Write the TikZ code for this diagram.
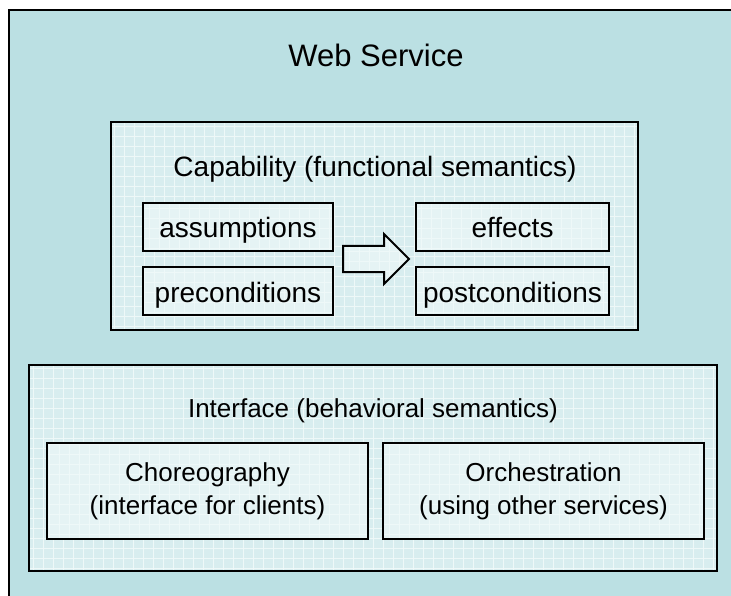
\documentclass[tikz,border=0pt]{standalone}
\usepackage{fontspec}
\setmainfont{Liberation Sans}
\usetikzlibrary{shapes.arrows}
\definecolor{outerfill}{HTML}{BBE0E3}
\definecolor{midfill}{HTML}{D8EDEF}
\definecolor{innerfill}{HTML}{E5F3F4}
\definecolor{gridcol}{HTML}{EEF8F8}
\begin{document}
\begin{tikzpicture}[x=1pt,y=-1pt,
  gridded/.style={path picture={\draw[gridcol, line width=0.8pt]
     ([shift={(-15pt,-15pt)}]path picture bounding box.south west) grid[xstep=10pt,ystep=10pt]
     ([shift={(15pt,15pt)}]path picture bounding box.north east);}},
  box/.style={draw=black, line width=2pt, inner sep=0pt, outer sep=0pt},
  outerbox/.style={box, line width=2.5pt, fill=outerfill},
  midbox/.style={box, fill=midfill, gridded},
  smallbox/.style={box, fill=innerfill, gridded, font=\fontsize{28}{30}\selectfont,
     text height=22pt, text depth=0pt},
  subbox/.style={box, fill=innerfill, gridded, align=center, font=\fontsize{26}{33}\selectfont},
  bigtitle/.style={anchor=base, inner sep=0pt, font=\fontsize{31}{34}\selectfont},
  midtitle/.style={anchor=base, inner sep=0pt, font=\fontsize{28}{30}\selectfont},
  inttitle/.style={anchor=base, inner sep=0pt, font=\fontsize{26}{30}\selectfont},
  blockarrow/.style={single arrow, draw=black, line width=2pt, fill=innerfill, gridded,
     text height=24pt, text depth=0pt, text width=0pt,
     minimum height=66pt, single arrow head extend=12pt, inner sep=0pt}
]
\useasboundingbox (0,0) rectangle (731,596);
\fill[white] (0,0) rectangle (731,596);
\clip (0,0) rectangle (731,596);

% outer web service box (extends past right and bottom edges)
\node[outerbox, minimum width=740pt, minimum height=600pt] (ws) at (379,310) {};
\node[bigtitle] (wsT) at (376,67) {Web Service};

% capability
\node[midbox, minimum width=527pt, minimum height=208pt] (cap) at (374.5,226) {};
\node[midtitle] (capT) at (375,177) {Capability (functional semantics)};
\node[smallbox, minimum width=190pt, minimum height=48pt] (ass) at (238,227) {assumptions};
\node[smallbox, minimum width=190pt, minimum height=48pt] (pre) at (238,291) {preconditions};
\node[smallbox, minimum width=193pt, minimum height=48pt] (eff) at (512.5,227) {effects};
\node[smallbox, minimum width=193pt, minimum height=48pt] (post) at (512.5,291) {postconditions};
\node[blockarrow] (arr) at (369.5,259) {};

% interface
\node[midbox, minimum width=688pt, minimum height=206pt] (int) at (373,468) {};
\node[inttitle] (intT) at (373,417) {Interface (behavioral semantics)};
\node[subbox, minimum width=321pt, minimum height=96pt] (cho) at (207.5,491) {Choreography\\(interface for clients)};
\node[subbox, minimum width=321pt, minimum height=96pt] (orc) at (543.5,491) {Orchestration\\(using other services)};
\end{tikzpicture}
\end{document}
